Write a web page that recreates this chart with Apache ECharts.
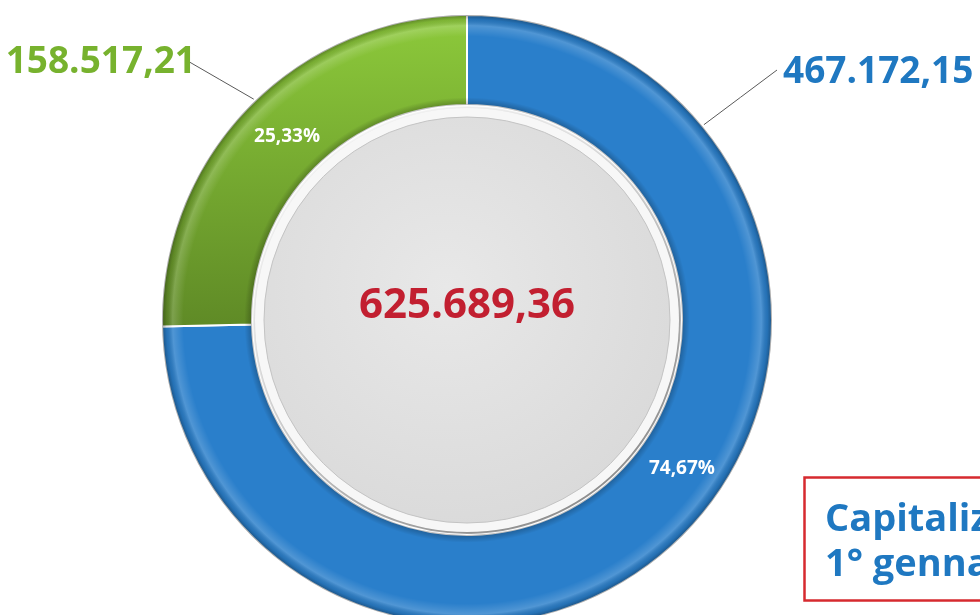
<!DOCTYPE html>
<html>
<head>
<meta charset="utf-8">
<script src="https://cdn.jsdelivr.net/npm/echarts@6/dist/echarts.min.js"></script>
<style>
  html, body { margin: 0; padding: 0; background: #ffffff; }
  #chart { width: 980px; height: 615px; }
</style>
</head>
<body>
<div id="chart"></div>
<script>
// dati
const sliceNames = ["Quota blu", "Quota verde"];
const sliceValues = [467172.15, 158517.21];
const boxLines = ["Capitalizzazione", "1° gennaio"];

const sliceColors = ["#2a7fcb", "#7bb432"];
const valueColors = ["#1f78c1", "#77b22e"];

// formato italiano 1.234,56
const fmtIt = (v) => {
  const parts = v.toFixed(2).split(".");
  const int = parts[0].replace(/\B(?=(\d{3})+(?!\d))/g, ".");
  return int + "," + parts[1];
};

const total = sliceValues.reduce((a, b) => a + b, 0);
const pctIt = (v) => ((v / total) * 100).toFixed(2).replace(".", ",") + "%";

const center = [467, 320];
const outerR = 305;
const FONT = "'Open Sans', 'Noto Sans', sans-serif";

// posizione etichette valori e punto di attacco della linea sull'anello (gradi da ore 12, senso orario)
const valueLabelPos = [
  { x: 783, y: 72, align: "left", lineEndX: 777, attachDeg: 50.5 },
  { x: 196, y: 62, align: "right", lineEndX: 186, attachDeg: -44 },
];

const ringPoint = (deg, r) => {
  const a = (deg * Math.PI) / 180;
  return [center[0] + r * Math.sin(a), center[1] - r * Math.cos(a)];
};

const chart = echarts.init(document.getElementById("chart"));

const ringData = sliceValues.map((v, i) => ({
  name: sliceNames[i],
  value: v,
}));

const option = {
  animation: false,
  title: {
    text: boxLines.join("\n"),
    left: 804,
    top: 477,
    borderColor: "#d62a2f",
    borderWidth: 2.5,
    padding: [21, 40, 13, 21],
    textStyle: {
      fontFamily: FONT,
      fontSize: 38,
      fontWeight: "bold",
      color: "#1f78c1",
      lineHeight: 45,
    },
  },
  series: [
    // disco centrale con bordo bianco
    {
      type: "pie",
      silent: true,
      center: center,
      radius: [0, 212],
      z: 1,
      label: { show: false },
      labelLine: { show: false },
      itemStyle: {
        color: "#f7f7f7",
        shadowBlur: 6,
        shadowOffsetX: 2,
        shadowOffsetY: 3,
        shadowColor: "rgba(0,0,0,0.55)",
      },
      data: [{ value: total }],
    },
    {
      type: "pie",
      silent: true,
      center: center,
      radius: [0, 203],
      z: 2,
      label: {
        show: true,
        position: "center",
        offset: [0, -14],
        formatter: (p) => fmtIt(p.value),
        fontFamily: FONT,
        fontSize: 42,
        fontWeight: "bold",
        color: "#c21f30",
      },
      labelLine: { show: false },
      itemStyle: {
        color: {
          type: "radial",
          x: 0.45,
          y: 0.42,
          r: 0.6,
          colorStops: [
            { offset: 0, color: "#e8e8e8" },
            { offset: 1, color: "#dadada" },
          ],
        },
        borderColor: "#c4c4c4",
        borderWidth: 1,
      },
      data: [{ value: total }],
    },
    // anello con le etichette dei valori
    {
      type: "pie",
      center: center,
      radius: [215, outerR],
      startAngle: 90,
      z: 3,
      itemStyle: {
        borderColor: "#ffffff",
        borderWidth: 2,
      },
      label: {
        show: true,
        position: "outside",
        overflow: "none",
        formatter: (p) => fmtIt(p.value),
        fontFamily: FONT,
        fontSize: 37,
        fontWeight: "bold",
      },
      labelLine: {
        show: true,
        lineStyle: { color: "#595959", width: 1 },
      },
      labelLayout: (p) => {
        const pos = valueLabelPos[p.dataIndex];
        const start = ringPoint(pos.attachDeg, outerR + 2);
        const end = [pos.lineEndX, pos.y - 2];
        const mid = [(start[0] + end[0]) / 2, (start[1] + end[1]) / 2];
        return {
          x: pos.x,
          y: pos.y,
          align: pos.align,
          verticalAlign: "middle",
          labelLinePoints: [start, mid, end],
        };
      },
      data: ringData.map((d, i) => ({
        ...d,
        itemStyle: {
          color:
            i === 1
              ? {
                  type: "linear",
                  x: 0,
                  y: 0,
                  x2: 0,
                  y2: 1,
                  colorStops: [
                    { offset: 0, color: "#8dca3b" },
                    { offset: 1, color: "#5f8a26" },
                  ],
                }
              : sliceColors[i],
        },
        label: { color: valueColors[i] },
      })),
    },
    // effetto rilievo sull'anello
    {
      type: "pie",
      silent: true,
      center: center,
      radius: [215, outerR],
      z: 4,
      label: { show: false },
      labelLine: { show: false },
      itemStyle: {
        color: {
          type: "radial",
          x: 0.5,
          y: 0.5,
          r: 0.5,
          colorStops: [
            { offset: 0.7, color: "rgba(0,0,0,0.30)" },
            { offset: 0.73, color: "rgba(0,0,0,0)" },
            { offset: 0.93, color: "rgba(255,255,255,0)" },
            { offset: 0.965, color: "rgba(255,255,255,0.18)" },
            { offset: 0.985, color: "rgba(0,0,0,0.1)" },
            { offset: 1, color: "rgba(0,0,0,0.35)" },
          ],
        },
      },
      data: [{ value: total }],
    },
    // percentuali dentro l'anello
    {
      type: "pie",
      silent: true,
      center: center,
      radius: [215, outerR],
      startAngle: 90,
      z: 5,
      itemStyle: { color: "rgba(0,0,0,0)" },
      label: {
        show: true,
        position: "inside",
        formatter: (p) => pctIt(p.value),
        fontFamily: FONT,
        fontSize: 19,
        fontWeight: "bold",
        color: "#ffffff",
      },
      labelLine: { show: false },
      labelLayout: (p) =>
        p.dataIndex === 0 ? { dx: 27, dy: -35 } : { dx: 8, dy: 1 },
      data: ringData,
    },
  ],
};

chart.setOption(option);

window.addEventListener("resize", () => chart.resize());
</script>
</body>
</html>
